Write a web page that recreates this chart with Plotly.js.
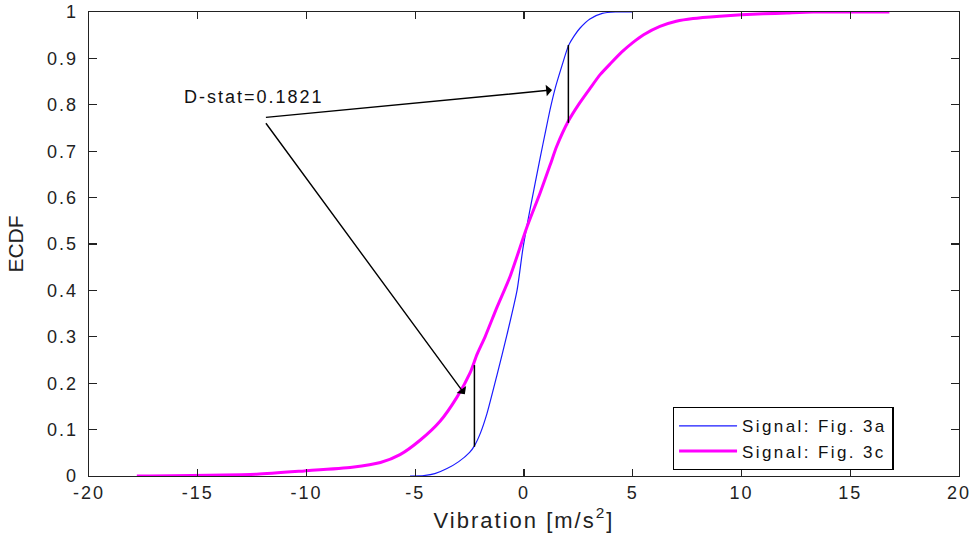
<!DOCTYPE html>
<html>
<head>
<meta charset="utf-8">
<script src="https://cdn.plot.ly/plotly-3.0.1.min.js"></script>
<style>
html,body{margin:0;padding:0;background:#fff;}
#chart{width:974px;height:542px;}
svg text{letter-spacing:2px;}
svg .legendtext{letter-spacing:2.4px;}
svg .g-ytitle text{letter-spacing:0px;}
</style>
</head>
<body>
<div id="chart"></div>
<script>
// Signal Fig. 3a ECDF (blue)
var sigA_x = [-5.24, -4.6, -4.1, -3.54, -3.0, -2.5, -2.28, -2.0, -1.7, -1.24, -0.78, -0.32, -0.05, 0.28, 0.74, 1.0, 1.2, 1.43, 1.75, 2.04, 2.3, 2.57, 3.03, 3.6, 4.2, 5.0];
var sigA_y = [0, 0.001, 0.005, 0.016, 0.031, 0.051, 0.065, 0.093, 0.135, 0.218, 0.305, 0.40, 0.49, 0.575, 0.685, 0.745, 0.79, 0.835, 0.885, 0.927, 0.948, 0.965, 0.985, 0.997, 1.0, 1.0];
// Signal Fig. 3c ECDF (magenta)
var sigC_x = [-17.8, -12.3, -10.1, -7.9, -6.6, -5.7, -4.78, -3.86, -3.08, -2.48, -2.16, -1.79, -1.24, -0.64, 0.14, 0.74, 1.2, 1.5, 2.04, 2.5, 3.03, 3.5, 4.0, 4.5, 5.0, 5.5, 6.25, 7.0, 7.77, 9.0, 10.0, 11.0, 12.1, 13.3, 16.8];
var sigC_y = [0, 0.004, 0.011, 0.019, 0.029, 0.046, 0.077, 0.118, 0.17, 0.222, 0.262, 0.30, 0.364, 0.43, 0.537, 0.61, 0.67, 0.71, 0.765, 0.80, 0.835, 0.865, 0.89, 0.914, 0.934, 0.951, 0.969, 0.98, 0.986, 0.991, 0.994, 0.996, 0.998, 1.0, 1.0];
// D-statistic markers
var dUpper_x = [2.04, 2.04];
var dUpper_y = [0.761, 0.929];
var dLower_x = [-2.28, -2.28];
var dLower_y = [0.063, 0.239];
var labelPos = [-15.72, 0.817];
var arrowTail = [-12.05, 0.772];
var arrowHeads = [[1.29, 0.832], [-2.72, 0.176]];
var labelText = 'D-stat=0.1821';
var xTicks = [-20, -15, -10, -5, 0, 5, 10, 15, 20];
var yTicks = [0, 0.1, 0.2, 0.3, 0.4, 0.5, 0.6, 0.7, 0.8, 0.9, 1];

var FONT = 'Liberation Sans, Arial, sans-serif';

var traces = [
  {x: sigA_x, y: sigA_y, type: 'scatter', mode: 'lines', name: 'Signal: Fig. 3a',
   line: {color: '#1a1aff', width: 1.2, shape: 'spline', smoothing: 0.6}},
  {x: sigC_x, y: sigC_y, type: 'scatter', mode: 'lines', name: 'Signal: Fig. 3c',
   line: {color: '#ff00ff', width: 3, shape: 'spline', smoothing: 0.6}},
  {x: dUpper_x, y: dUpper_y, type: 'scatter', mode: 'lines', showlegend: false,
   line: {color: '#000', width: 1.5}, hoverinfo: 'skip'},
  {x: dLower_x, y: dLower_y, type: 'scatter', mode: 'lines', showlegend: false,
   line: {color: '#000', width: 1.5}, hoverinfo: 'skip'}
];

var annotations = [{
  x: labelPos[0], y: labelPos[1], xref: 'x', yref: 'y', text: labelText,
  showarrow: false, xanchor: 'left', yanchor: 'middle',
  font: {family: FONT, size: 18, color: '#111'}
}];
arrowHeads.forEach(function (h) {
  annotations.push({
    x: h[0], y: h[1], xref: 'x', yref: 'y', ax: arrowTail[0], ay: arrowTail[1],
    axref: 'x', ayref: 'y', text: ' ', showarrow: true, arrowhead: 1,
    arrowsize: 1.4, arrowwidth: 1.4, arrowcolor: '#000', standoff: 0
  });
});

var axisCommon = {
  showgrid: false, zeroline: false, showline: true, linecolor: '#222', linewidth: 1.3,
  mirror: 'ticks', ticks: 'inside', tickcolor: '#222', tickwidth: 1.3,
  tickfont: {family: FONT, size: 18, color: '#222'}
};

var layout = {
  width: 974, height: 542,
  margin: {l: 89, r: 15, t: 12, b: 66},
  paper_bgcolor: '#fff', plot_bgcolor: '#fff',
  showlegend: true,
  legend: {
    x: 0.925, y: 0.013, xanchor: 'right', yanchor: 'bottom',
    bordercolor: '#000', borderwidth: 1.3, bgcolor: '#fff', itemwidth: 58,
    font: {family: FONT, size: 17, color: '#111'}, tracegroupgap: 0
  },
  xaxis: Object.assign({}, axisCommon, {
    range: [-20, 20], tickvals: xTicks, ticktext: xTicks.map(String), ticklen: 7,
    title: {text: 'Vibration [m/s<sup>2</sup>]', font: {family: FONT, size: 22, color: '#222'}, standoff: 10}
  }),
  yaxis: Object.assign({}, axisCommon, {
    range: [0, 1], tickvals: yTicks, ticktext: yTicks.map(String), ticklen: 8,
    ticklabelstandoff: 6,
    title: {text: 'ECDF', font: {family: FONT, size: 21, color: '#222'}, standoff: 17}
  }),
  annotations: annotations
};

Plotly.newPlot('chart', traces, layout, {displayModeBar: false, staticPlot: true});
</script>
</body>
</html>
